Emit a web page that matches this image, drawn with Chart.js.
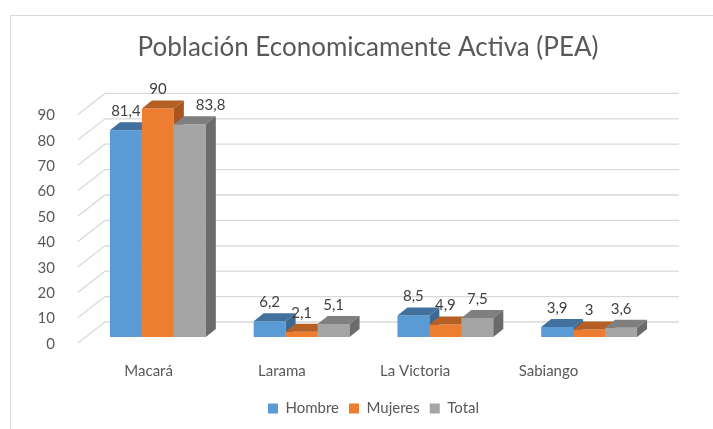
<!DOCTYPE html>
<html>
<head>
<meta charset="utf-8">
<script src="https://cdn.jsdelivr.net/npm/chart.js@4.4.1/dist/chart.umd.min.js"></script>
<style>
  html, body { margin: 0; padding: 0; background: #fff; }
  #wrap { width: 713px; height: 429px; position: relative; }
</style>
</head>
<body>
<div id="wrap"><canvas id="c" width="713" height="429"></canvas></div>
<script>
const chartTitle = "Población Economicamente Activa (PEA)";
const categories = ["Macará", "Larama", "La Victoria", "Sabiango"];
const seriesNames = ["Hombre", "Mujeres", "Total"];
const hombre = [81.4, 6.2, 8.5, 3.9];
const mujeres = [90, 2.1, 4.9, 3];
const total = [83.8, 5.1, 7.5, 3.6];
const yMin = 0, yMax = 90, yStep = 10;

const FONT = "Lato, 'Open Sans', sans-serif";
const TEXT = "#595959";
const front = ["#5b9bd5", "#ed7d31", "#a5a5a5"];
const topFace = ["#41719c", "#b65f24", "#7f7f7f"];
const sideFace = ["#3d6a94", "#a85520", "#6b6b6b"];
// depth of each bar block
const DX = 10, DY = -8;

const fmt = (v) => String(v).replace(".", ",");

// back wall grid + 3d bars drawn in left-to-right order
const bars3d = {
  id: "bars3d",
  beforeDatasetsDraw(chart) {
    const { ctx, chartArea: a } = chart;
    const y = chart.scales.y;
    ctx.save();
    ctx.strokeStyle = "#d9d9d9";
    ctx.lineWidth = 1.3;
    for (let v = yMin; v <= yMax; v += yStep) {
      const py = y.getPixelForValue(v);
      ctx.beginPath();
      ctx.moveTo(a.left - 8, py + 6);
      ctx.lineTo(a.left + 19, py - 15);
      ctx.lineTo(a.right + 18, py - 15);
      ctx.stroke();
    }
    for (let j = 0; j < chart.data.labels.length; j++) {
      chart.data.datasets.forEach((ds, i) => {
        const el = chart.getDatasetMeta(i).data[j];
        el.draw(ctx);
        const { x, y: t, base, width } = el.getProps(["x", "y", "base", "width"], true);
        const l = x - width / 2, r = x + width / 2;
        ctx.fillStyle = topFace[i];
        ctx.beginPath();
        ctx.moveTo(l, t); ctx.lineTo(l + DX, t + DY); ctx.lineTo(r + DX, t + DY); ctx.lineTo(r, t);
        ctx.closePath(); ctx.fill();
        ctx.fillStyle = sideFace[i];
        ctx.beginPath();
        ctx.moveTo(r, t); ctx.lineTo(r + DX, t + DY); ctx.lineTo(r + DX, base + DY); ctx.lineTo(r, base);
        ctx.closePath(); ctx.fill();
      });
    }
    ctx.restore();
    return false;
  },
  afterDraw(chart) {
    const { ctx, chartArea: a } = chart;
    ctx.save();
    // frame
    ctx.strokeStyle = "#d9d9d9";
    ctx.lineWidth = 1;
    ctx.strokeRect(10.5, 15.5, 800, 500);

    // title, centred on the (wider than the picture) frame
    ctx.fillStyle = TEXT;
    ctx.textAlign = "center";
    ctx.textBaseline = "middle";
    ctx.font = "26px " + FONT;
    ctx.fillText(chartTitle, 368, 48);

    // value labels
    ctx.font = "15px " + FONT;
    ctx.fillStyle = "#404040";
    for (let j = 0; j < chart.data.labels.length; j++) {
      chart.data.datasets.forEach((ds, i) => {
        const el = chart.getDatasetMeta(i).data[j];
        const { x, y: t } = el.getProps(["x", "y"], true);
        const txt = fmt(ds.data[j]);
        const w = ctx.measureText(txt).width;
        let cx = x;
        const cy = t - 19;
        if (i > 0) {
          const p = chart.getDatasetMeta(i - 1).data[j].getProps(["x", "y", "width"], true);
          const pRight = p.x + p.width / 2 + DX;
          const overlap = pRight - (cx - w / 2);
          if (p.y + DY < cy + 8 && overlap > 6) cx = pRight + 12 + w / 2;
        }
        ctx.fillText(txt, cx, cy);
      });
    }

    // category labels on the floor (perspective pulls them left)
    ctx.fillStyle = TEXT;
    const xs = chart.scales.x;
    categories.forEach((c, j) => {
      const px = xs.getPixelForValue(j);
      ctx.fillText(c, a.left - 4 + (px - a.left) * 0.927, a.bottom + 34);
    });
    ctx.restore();
  }
};

new Chart(document.getElementById("c"), {
  type: "bar",
  data: {
    labels: categories,
    datasets: [
      { label: seriesNames[0], data: hombre, backgroundColor: front[0] },
      { label: seriesNames[1], data: mujeres, backgroundColor: front[1] },
      { label: seriesNames[2], data: total, backgroundColor: front[2] },
    ],
  },
  options: {
    responsive: false,
    animation: false,
    devicePixelRatio: 1,
    layout: { padding: { left: 30, right: 52, top: 108.4, bottom: 3 } },
    datasets: { bar: { categoryPercentage: 0.667, barPercentage: 1, borderWidth: 0 } },
    plugins: {
      title: { display: false },
      legend: {
        position: "bottom",
        fullSize: false,
        labels: { color: TEXT, boxWidth: 10, boxHeight: 10, padding: 10, font: { family: FONT, size: 15 } },
      },
      tooltip: { enabled: false },
    },
    scales: {
      x: {
        grid: { display: false },
        border: { display: false },
        ticks: { display: false },
        afterFit: (s) => { s.height = 54; },
      },
      y: {
        min: yMin,
        max: yMax,
        grid: { display: false },
        border: { display: false },
        ticks: { stepSize: yStep, color: TEXT, padding: 23, labelOffset: 7, font: { family: FONT, size: 15 } },
        afterFit: (s) => { s.width = 56; },
      },
    },
  },
  plugins: [bars3d],
});
</script>
</body>
</html>
